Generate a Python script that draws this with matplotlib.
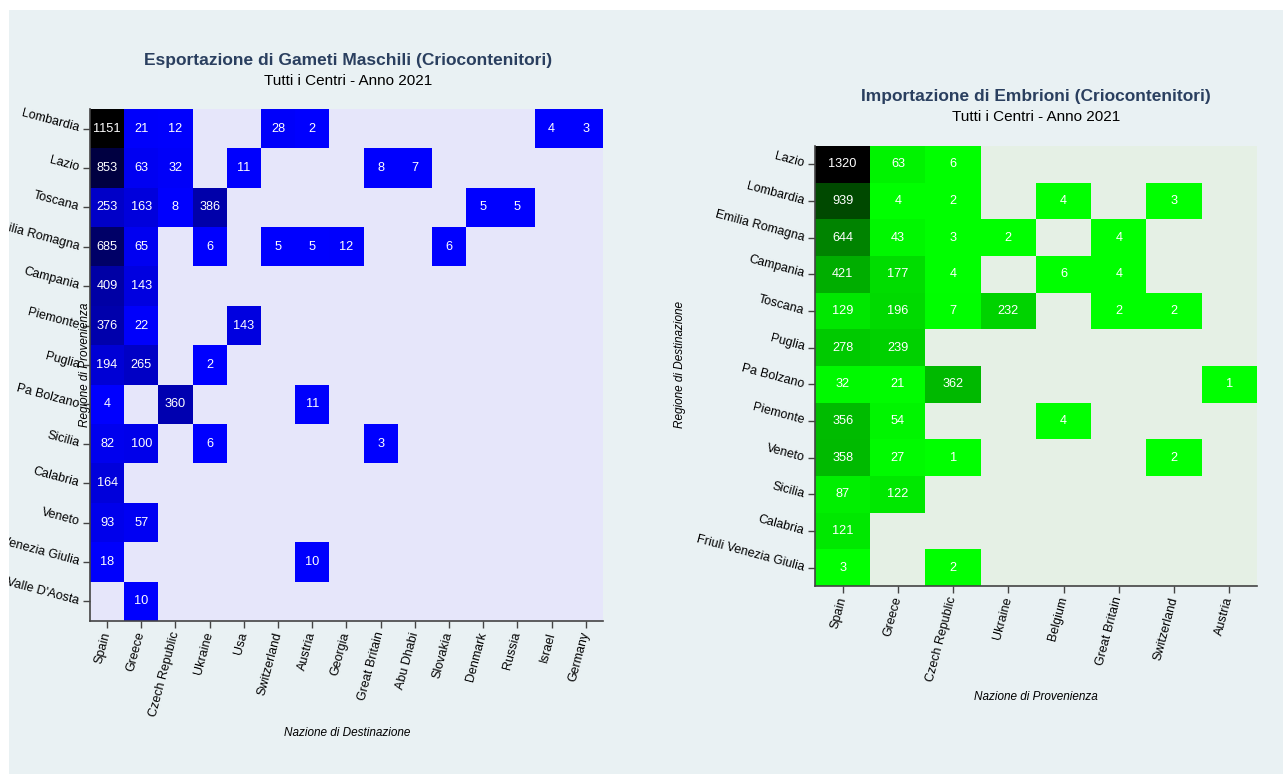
import numpy as np
import matplotlib.pyplot as plt
from matplotlib.colors import LinearSegmentedColormap
from matplotlib.patches import Rectangle

plt.rcParams['font.family'] = ['Liberation Sans', 'DejaVu Sans']

N = None

# --- Esportazione di gameti maschili ---
esp_regioni = ['Lombardia', 'Lazio', 'Toscana', 'Emilia Romagna', 'Campania', 'Piemonte',
               'Puglia', 'Pa Bolzano', 'Sicilia', 'Calabria', 'Veneto',
               'Friuli Venezia Giulia', "Valle D'Aosta"]
esp_nazioni = ['Spain', 'Greece', 'Czech Republic', 'Ukraine', 'Usa', 'Switzerland', 'Austria',
               'Georgia', 'Great Britain', 'Abu Dhabi', 'Slovakia', 'Denmark', 'Russia',
               'Israel', 'Germany']
esp_valori = [
    [1151, 21, 12, N, N, 28, 2, N, N, N, N, N, N, 4, 3],
    [853, 63, 32, N, 11, N, N, N, 8, 7, N, N, N, N, N],
    [253, 163, 8, 386, N, N, N, N, N, N, N, 5, 5, N, N],
    [685, 65, N, 6, N, 5, 5, 12, N, N, 6, N, N, N, N],
    [409, 143, N, N, N, N, N, N, N, N, N, N, N, N, N],
    [376, 22, N, N, 143, N, N, N, N, N, N, N, N, N, N],
    [194, 265, N, 2, N, N, N, N, N, N, N, N, N, N, N],
    [4, N, 360, N, N, N, 11, N, N, N, N, N, N, N, N],
    [82, 100, N, 6, N, N, N, N, 3, N, N, N, N, N, N],
    [164, N, N, N, N, N, N, N, N, N, N, N, N, N, N],
    [93, 57, N, N, N, N, N, N, N, N, N, N, N, N, N],
    [18, N, N, N, N, N, 10, N, N, N, N, N, N, N, N],
    [N, 10, N, N, N, N, N, N, N, N, N, N, N, N, N],
]

# --- Importazione di embrioni ---
imp_regioni = ['Lazio', 'Lombardia', 'Emilia Romagna', 'Campania', 'Toscana', 'Puglia',
               'Pa Bolzano', 'Piemonte', 'Veneto', 'Sicilia', 'Calabria',
               'Friuli Venezia Giulia']
imp_nazioni = ['Spain', 'Greece', 'Czech Republic', 'Ukraine', 'Belgium', 'Great Britain',
               'Switzerland', 'Austria']
imp_valori = [
    [1320, 63, 6, N, N, N, N, N],
    [939, 4, 2, N, 4, N, 3, N],
    [644, 43, 3, 2, N, 4, N, N],
    [421, 177, 4, N, 6, 4, N, N],
    [129, 196, 7, 232, N, 2, 2, N],
    [278, 239, N, N, N, N, N, N],
    [32, 21, 362, N, N, N, N, 1],
    [356, 54, N, N, 4, N, N, N],
    [358, 27, 1, N, N, N, 2, N],
    [87, 122, N, N, N, N, N, N],
    [121, N, N, N, N, N, N, N],
    [3, N, 2, N, N, N, N, N],
]

W, H = 1283, 774
fig = plt.figure(figsize=(W / 100, H / 100), dpi=100, facecolor='white')
fig.patches.append(Rectangle((9 / W, 0), 1, 1 - 10 / H, transform=fig.transFigure,
                             facecolor='#E9F1F3', edgecolor='none', zorder=-10))


def to_array(valori):
    return np.array([[np.nan if v is None else v for v in riga] for riga in valori], dtype=float)


def heatmap(rect, valori, regioni, nazioni, colori, sfondo):
    ax = fig.add_axes(rect)
    arr = to_array(valori)
    cmap = LinearSegmentedColormap.from_list('c', colori)
    ax.set_facecolor(sfondo)
    ax.imshow(np.ma.masked_invalid(arr), cmap=cmap, vmin=np.nanmin(arr), vmax=np.nanmax(arr),
              aspect='auto', interpolation='nearest')
    for i in range(arr.shape[0]):
        for j in range(arr.shape[1]):
            if not np.isnan(arr[i, j]):
                ax.text(j, i, f'{int(arr[i, j])}', ha='center', va='center',
                        color='white', fontsize=9.2)
    ax.set_xticks(range(len(nazioni)))
    ax.set_xticklabels(nazioni, rotation=75, ha='right', va='center', rotation_mode='anchor')
    ax.set_yticks(range(len(regioni)))
    ax.set_yticklabels(regioni, rotation=-15, ha='right', va='center', rotation_mode='anchor')
    ax.tick_params(direction='out', length=5, width=1, color='#444444', labelsize=9, pad=3)
    for lato in ['top', 'right']:
        ax.spines[lato].set_visible(False)
    for lato in ['left', 'bottom']:
        ax.spines[lato].set_color('#444444')
        ax.spines[lato].set_linewidth(1.2)
    return ax


# pannello sinistro
heatmap([90 / W, 1 - 621 / H, 513 / W, 512 / H], esp_valori, esp_regioni, esp_nazioni,
        ['#0000FF', '#000000'], '#E6E6FA')
fig.text(348 / W, 1 - 60 / H, 'Esportazione di Gameti Maschili (Criocontenitori)',
         ha='center', va='center', fontsize=12.5, fontweight='bold', color='#2A3F5F')
fig.text(348 / W, 1 - 81 / H, 'Tutti i Centri - Anno 2021', ha='center', va='center',
         fontsize=11, color='black')
fig.text(347 / W, 1 - 733 / H, 'Nazione di Destinazione', ha='center', va='center',
         fontsize=8.5, style='italic')
fig.text(85 / W, 1 - 365 / H, 'Regione di Provenienza', ha='center', va='center',
         fontsize=8.5, style='italic', rotation=90)

# pannello destro
heatmap([815 / W, 1 - 586 / H, 442 / W, 440 / H], imp_valori, imp_regioni, imp_nazioni,
        ['#00FF00', '#000000'], '#E5F0E5')
fig.text(1036 / W, 1 - 96 / H, 'Importazione di Embrioni (Criocontenitori)',
         ha='center', va='center', fontsize=12.5, fontweight='bold', color='#2A3F5F')
fig.text(1036 / W, 1 - 117 / H, 'Tutti i Centri - Anno 2021', ha='center', va='center',
         fontsize=11, color='black')
fig.text(1036 / W, 1 - 697 / H, 'Nazione di Provenienza', ha='center', va='center',
         fontsize=8.5, style='italic')
fig.text(680 / W, 1 - 365 / H, 'Regione di Destinazione', ha='center', va='center',
         fontsize=8.5, style='italic', rotation=90)

# bordo bianco a sinistra: le etichette lunghe vengono tagliate come nell'originale
fig.add_artist(Rectangle((0, 0), 9 / W, 1, transform=fig.transFigure,
                         facecolor='white', edgecolor='none', zorder=10))

fig.savefig('out.png', dpi=100)
